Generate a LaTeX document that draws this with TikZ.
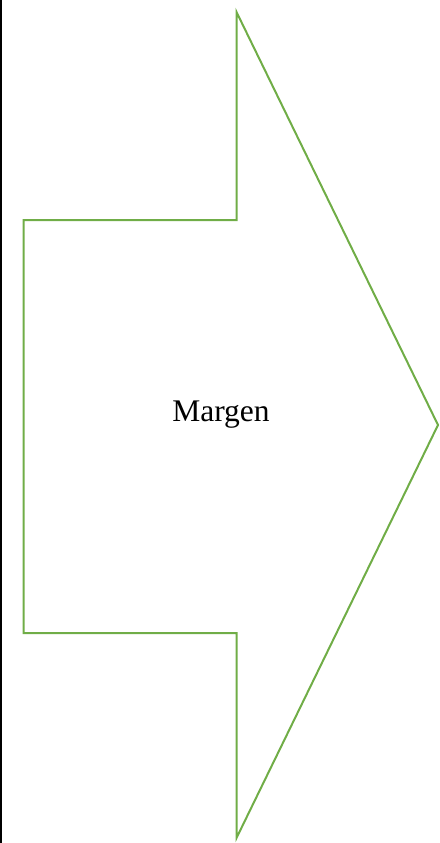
\documentclass[tikz,border=0pt]{standalone}
\usepackage{fontspec}
\setmainfont{Liberation Serif}
\usepackage{xcolor}
\usepackage{tikz}
\definecolor{okYesil}{HTML}{70AD47}

\begin{document}
\begin{tikzpicture}[x=1pt,y=-1pt]
\useasboundingbox (0,0) rectangle (439,843);
\fill[black] (0,0) rectangle (2.2,843);
\draw[okYesil,line width=2pt,line join=miter]
  (23.5,220)--(236.5,220)--(236.5,12)--(438,425)--(236.5,838)--(236.5,633)--(23.5,633)--cycle;
\node[font=\fontsize{31.5}{36}\selectfont] (margen) at (221,415) {Margen};
\end{tikzpicture}
\end{document}
